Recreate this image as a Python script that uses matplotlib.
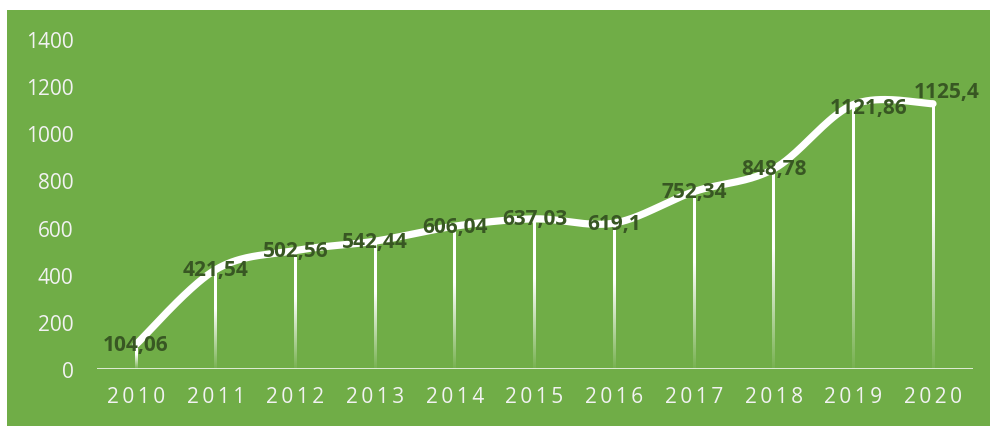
import numpy as np
import matplotlib
matplotlib.use('Agg')
import matplotlib.pyplot as plt
from matplotlib.patches import Rectangle

years = ['2010', '2011', '2012', '2013', '2014', '2015', '2016', '2017', '2018', '2019', '2020']
values = [104.06, 421.54, 502.56, 542.44, 606.04, 637.03, 619.1, 752.34, 848.78, 1121.86, 1125.4]
labels = ['104,06', '421,54', '502,56', '542,44', '606,04', '637,03', '619,1',
          '752,34', '848,78', '1121,86', '1125,4']
y_ticks = [0, 200, 400, 600, 800, 1000, 1200, 1400]

green = '#70AD47'
label_color = '#385723'
W, H = 990, 427


def smooth_curve(xs, ys, n=40):
    # bezier smoothing similar to office charts (catmull-rom, tension 1/6)
    xs = np.asarray(xs, float)
    ys = np.asarray(ys, float)
    px, py = [], []
    for i in range(len(xs) - 1):
        x0, y0 = (xs[i - 1], ys[i - 1]) if i > 0 else (xs[i], ys[i])
        x3, y3 = (xs[i + 2], ys[i + 2]) if i + 2 < len(xs) else (xs[i + 1], ys[i + 1])
        x1, y1, x2, y2 = xs[i], ys[i], xs[i + 1], ys[i + 1]
        c1x, c1y = x1 + (x2 - x0) / 6, y1 + (y2 - y0) / 6
        c2x, c2y = x2 - (x3 - x1) / 6, y2 - (y3 - y1) / 6
        t = np.linspace(0, 1, n)
        a, b, c, d = (1 - t) ** 3, 3 * (1 - t) ** 2 * t, 3 * (1 - t) * t ** 2, t ** 3
        px.extend(a * x1 + b * c1x + c * c2x + d * x2)
        py.extend(a * y1 + b * c1y + c * c2y + d * y2)
    return np.array(px), np.array(py)


fig = plt.figure(figsize=(W / 100, H / 100), dpi=100)
fig.patch.set_facecolor('white')
fig.patches.append(Rectangle((7 / W, 0), 1 - 7 / W, 1 - 11 / H, transform=fig.transFigure,
                             facecolor=green, edgecolor='none', zorder=-10))

x = np.arange(len(years))
# axes: x 2010 at px 136, 2020 at px 933; y 0 at px 370, 1400 at px 40
step = (933 - 136) / 10
left_px = 97
right_px = 973
x_lo = -(136 - left_px) / step
x_hi = 10 + (right_px - 933) / step
ax = fig.add_axes([left_px / W, (H - 370) / H, (right_px - left_px) / W, (370 - 40) / H])
ax.set_facecolor('none')

# drop lines fading towards the axis, drawn as thin gradient images
frac = np.linspace(0, 1, 200)[::-1].reshape(-1, 1)
grad = np.ones((200, 1, 4))
grad[:, 0, 3] = np.clip(0.05 + 1.6 * frac[:, 0], 0, 1)
half_w = 1.4 / step
for xi, v in zip(x, values):
    ax.imshow(grad, extent=(xi - half_w, xi + half_w, 0, v), aspect='auto',
              interpolation='bilinear', zorder=2)

sx, sy = smooth_curve(x, values)
ax.plot(sx, sy, color='white', lw=5.2, solid_capstyle='round', zorder=3, clip_on=False)

# label offsets in pixels (only the last two are moved off the point)
offsets = {9: (15, -3), 10: (14, 12)}
for i, (xi, v, lab) in enumerate(zip(x, values, labels)):
    dx, dy = offsets.get(i, (0, 0))
    ax.annotate(lab, (xi, v), xytext=(dx * 0.72, dy * 0.72), textcoords='offset points',
                ha='center', va='center', fontsize=15, fontweight='bold',
                color=label_color, family='Open Sans', zorder=4, annotation_clip=False)

ax.set_xlim(x_lo, x_hi)
ax.set_ylim(0, 1400)
ax.axhline(0, color='white', lw=1.8, zorder=3)
for s in ax.spines.values():
    s.set_visible(False)
ax.set_xticks(x)
ax.set_xticklabels(['\u2009'.join(y_) for y_ in years])
ax.set_yticks(y_ticks)
ax.tick_params(length=0, colors='#F2F2F2')
for t in ax.get_xticklabels() + ax.get_yticklabels():
    t.set_fontsize(15)
    t.set_family('Open Sans')
ax.tick_params(axis='x', pad=12)
ax.tick_params(axis='y', pad=17)

fig.savefig('out.png', dpi=100, facecolor=fig.get_facecolor())
